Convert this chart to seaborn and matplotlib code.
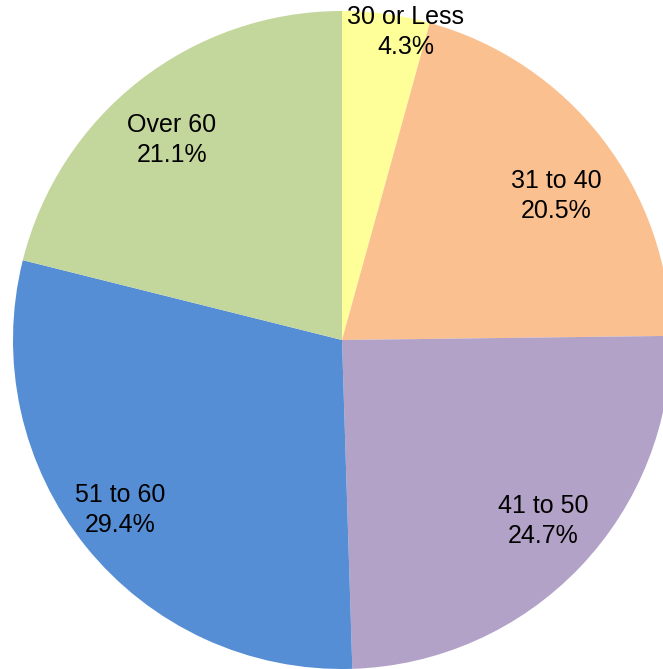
import numpy as np
import matplotlib
matplotlib.use("Agg")
import matplotlib.pyplot as plt
import seaborn as sns

# Age groups and their share (%)
groups = ["30 or Less", "31 to 40", "41 to 50", "51 to 60", "Over 60"]
shares = [4.3, 20.5, 24.7, 29.4, 21.1]
colors = ["#FFFF99", "#FAC090", "#B3A2C7", "#558ED5", "#C3D69B"]
# label placement (fraction of radius, degrees off the wedge middle)
label_radius = [0.955, 0.784, 0.822, 0.85, 0.798]
label_shift = [-3.9, -3.7, 1.7, -1.4, 2.4]

sns.set_theme(style="white")
plt.rcParams['font.family'] = ['Liberation Sans', 'DejaVu Sans']

fig = plt.figure(figsize=(6.63, 6.69), dpi=100)
ax = fig.add_axes([0, 0, 1, 1])

wedges, _ = ax.pie(shares, colors=colors, startangle=90, counterclock=False,
                   radius=1.0, wedgeprops=dict(linewidth=0))

for w, g, s, r, d in zip(wedges, groups, shares, label_radius, label_shift):
    mid = np.deg2rad((w.theta1 + w.theta2) / 2 + d)
    ax.text(r * np.cos(mid), r * np.sin(mid), f"{g}\n{s}%",
            ha="center", va="center", fontsize=18, color="black",
            linespacing=1.32)

# the picture crops the circle a little on the right and bottom
ax.set_aspect("auto")
ax.set_xlim(-1.0395, 0.9757)
ax.set_ylim(-1.0, 1.0334)
ax.axis("off")

fig.savefig("out.png", dpi=100, facecolor="white")
